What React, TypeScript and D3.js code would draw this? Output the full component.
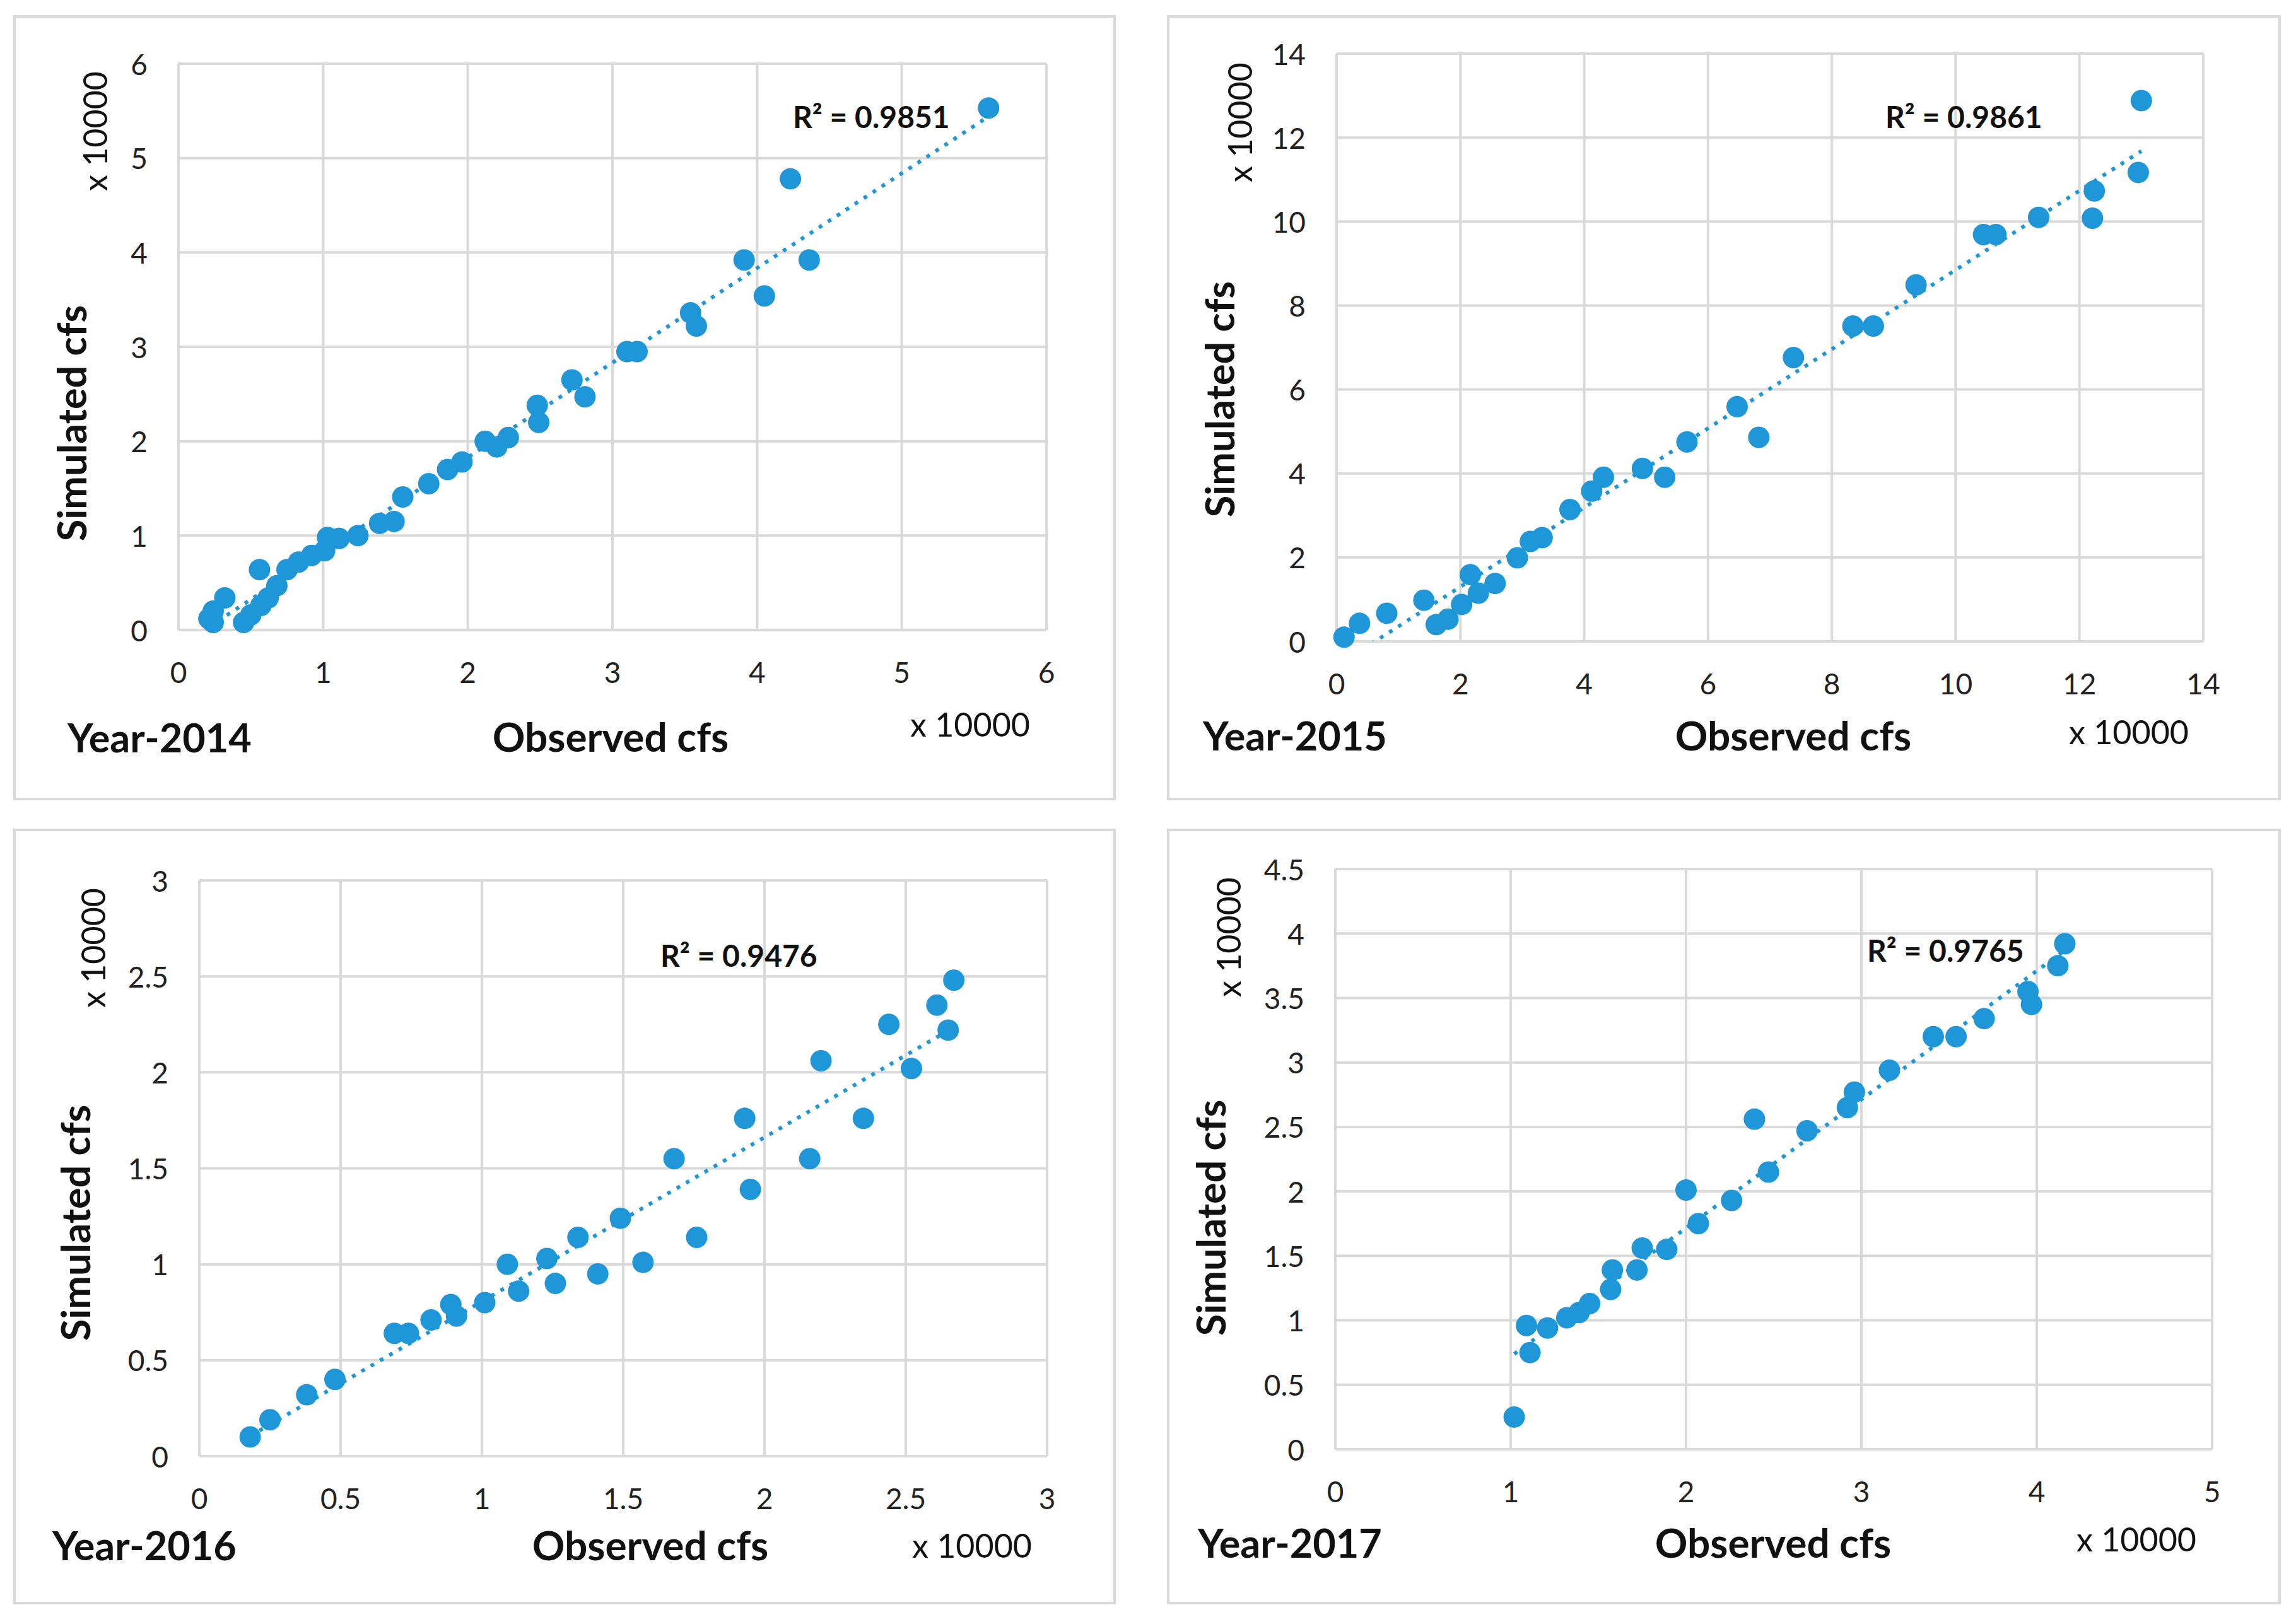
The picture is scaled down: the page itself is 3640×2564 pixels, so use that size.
import React from "react";
import * as d3 from "d3";

// ---------- DATA (values in units of 10000 cfs) ----------
const obs2014 = [5.60, 4.23, 3.91, 4.36, 4.05, 3.54, 3.58, 3.10, 3.17, 2.72, 2.81, 2.48, 2.49, 2.12, 2.20, 2.28, 1.96, 1.86, 1.73, 1.55, 1.49, 1.39, 1.24, 1.11, 1.03, 1.01, 0.92, 0.83, 0.75, 0.68, 0.56, 0.62, 0.57, 0.50, 0.45, 0.32, 0.24, 0.21, 0.24];
const sim2014 = [5.53, 4.78, 3.92, 3.92, 3.54, 3.36, 3.22, 2.95, 2.95, 2.65, 2.47, 2.38, 2.20, 2.00, 1.94, 2.04, 1.78, 1.70, 1.55, 1.41, 1.15, 1.13, 1.00, 0.97, 0.98, 0.84, 0.79, 0.72, 0.64, 0.47, 0.64, 0.34, 0.26, 0.16, 0.08, 0.34, 0.20, 0.12, 0.08];

const obs2015 = [13.0, 12.95, 12.24, 12.21, 11.34, 10.45, 10.65, 9.36, 8.34, 8.67, 7.38, 6.47, 6.82, 5.66, 4.94, 5.30, 4.31, 4.12, 3.77, 3.32, 3.13, 2.92, 2.56, 2.29, 2.16, 2.02, 1.80, 1.61, 1.41, 0.81, 0.37, 0.12];
const sim2015 = [12.88, 11.17, 10.73, 10.08, 10.10, 9.69, 9.69, 8.49, 7.51, 7.51, 6.76, 5.59, 4.86, 4.75, 4.12, 3.91, 3.91, 3.58, 3.14, 2.47, 2.38, 1.99, 1.38, 1.15, 1.59, 0.88, 0.53, 0.40, 0.98, 0.67, 0.43, 0.10];

const obs2016 = [2.67, 2.61, 2.65, 2.44, 2.52, 2.20, 2.35, 1.93, 2.16, 1.68, 1.95, 1.49, 1.76, 1.34, 1.57, 1.23, 1.09, 1.41, 1.26, 1.13, 1.01, 0.89, 0.91, 0.82, 0.69, 0.74, 0.48, 0.38, 0.25, 0.18];
const sim2016 = [2.48, 2.35, 2.22, 2.25, 2.02, 2.06, 1.76, 1.76, 1.55, 1.55, 1.39, 1.24, 1.14, 1.14, 1.01, 1.03, 1.00, 0.95, 0.90, 0.86, 0.80, 0.79, 0.73, 0.71, 0.64, 0.64, 0.40, 0.32, 0.19, 0.10];

const obs2017 = [4.16, 4.12, 3.95, 3.97, 3.70, 3.54, 3.41, 3.16, 2.96, 2.92, 2.69, 2.39, 2.47, 2.26, 2.00, 2.07, 1.89, 1.75, 1.72, 1.58, 1.57, 1.45, 1.39, 1.32, 1.21, 1.09, 1.11, 1.02];
const sim2017 = [3.92, 3.75, 3.55, 3.45, 3.34, 3.20, 3.20, 2.94, 2.77, 2.65, 2.47, 2.56, 2.15, 1.93, 2.01, 1.75, 1.55, 1.56, 1.39, 1.39, 1.24, 1.13, 1.06, 1.02, 0.94, 0.96, 0.75, 0.25];

const ticks2014 = [0, 1, 2, 3, 4, 5, 6];
const ticks2015 = [0, 2, 4, 6, 8, 10, 12, 14];
const ticks2016 = [0, 0.5, 1, 1.5, 2, 2.5, 3];
const yTicks2017 = [0, 0.5, 1, 1.5, 2, 2.5, 3, 3.5, 4, 4.5];
const xTicks2017 = [0, 1, 2, 3, 4, 5];

const yearLabels = ["Year-2014", "Year-2015", "Year-2016", "Year-2017"];
const r2Labels = ["R² = 0.9851", "R² = 0.9861", "R² = 0.9476", "R² = 0.9765"];
const xTitle = "Observed cfs";
const yTitle = "Simulated cfs";
const scaleLabel = "x 10000";

// ---------- LAYOUT ----------
const W = 3640;
const H = 2564;
const COLOR = "#1e96d7";
const GRID = "#d9d9d9";
const FONT = "Lato, 'Open Sans', sans-serif";

type Panel = {
  obs: number[];
  sim: number[];
  xTicks: number[];
  yTicks: number[];
  year: string;
  r2: string;
  box: [number, number, number, number];
  plot: [number, number, number, number]; // left, top, right, bottom
  yScaleLbl: [number, number];
  yTitlePos: [number, number];
  yearPos: [number, number];
  xTitlePos: [number, number];
  xScaleLbl: [number, number];
  r2Pos: [number, number];
};

const panels: Panel[] = [
  {
    obs: obs2014, sim: sim2014, xTicks: ticks2014, yTicks: ticks2014,
    year: yearLabels[0], r2: r2Labels[0],
    box: [23, 26, 1767, 1267], plot: [283, 101, 1659, 999],
    yScaleLbl: [150, 208], yTitlePos: [112, 671], yearPos: [107, 1193],
    xTitlePos: [968, 1192], xScaleLbl: [1443, 1168], r2Pos: [1257, 203],
  },
  {
    obs: obs2015, sim: sim2015, xTicks: ticks2015, yTicks: ticks2015,
    year: yearLabels[1], r2: r2Labels[1],
    box: [1852, 26, 3614, 1267], plot: [2119, 85, 3493, 1017],
    yScaleLbl: [1965, 194], yTitlePos: [1932, 633], yearPos: [1907, 1190],
    xTitlePos: [2843, 1190], xScaleLbl: [3280, 1180], r2Pos: [2989, 203],
  },
  {
    obs: obs2016, sim: sim2016, xTicks: ticks2016, yTicks: ticks2016,
    year: yearLabels[2], r2: r2Labels[2],
    box: [23, 1316, 1767, 2542], plot: [316, 1396, 1660, 2309],
    yScaleLbl: [147, 1503], yTitlePos: [118, 1939], yearPos: [83, 2474],
    xTitlePos: [1031, 2474], xScaleLbl: [1446, 2470], r2Pos: [1047, 1533],
  },
  {
    obs: obs2017, sim: sim2017, xTicks: xTicks2017, yTicks: yTicks2017,
    year: yearLabels[3], r2: r2Labels[3],
    box: [1852, 1316, 3614, 2542], plot: [2117, 1378, 3507, 2298],
    yScaleLbl: [1947, 1486], yTitlePos: [1918, 1931], yearPos: [1899, 2470],
    xTitlePos: [2811, 2470], xScaleLbl: [3292, 2460], r2Pos: [2960, 1525],
  },
];

function linReg(xs: number[], ys: number[]) {
  const mx = d3.mean(xs)!;
  const my = d3.mean(ys)!;
  let num = 0, den = 0;
  xs.forEach((x, i) => {
    num += (x - mx) * (ys[i] - my);
    den += (x - mx) * (x - mx);
  });
  const slope = num / den;
  return { slope, intercept: my - slope * mx };
}

function fmt(v: number) {
  return String(v);
}

function ScatterPanel({ p, idx }: { p: Panel; idx: number }) {
  const [l, t, r, b] = p.plot;
  const x = d3.scaleLinear().domain([p.xTicks[0], p.xTicks[p.xTicks.length - 1]]).range([l, r]);
  const y = d3.scaleLinear().domain([p.yTicks[0], p.yTicks[p.yTicks.length - 1]]).range([b, t]);
  const { slope, intercept } = linReg(p.obs, p.sim);
  const [x0, x1] = d3.extent(p.obs) as [number, number];
  const line = d3.line<number>().x((d) => x(d)).y((d) => y(slope * d + intercept));
  const clipId = `clip-${idx}`;
  const [bx0, by0, bx1, by1] = p.box;

  return (
    <g>
      <rect x={bx0} y={by0} width={bx1 - bx0} height={by1 - by0} fill="#fff" stroke={GRID} strokeWidth={4} />
      <defs>
        <clipPath id={clipId}>
          <rect x={l} y={t} width={r - l} height={b - t} />
        </clipPath>
      </defs>
      {p.yTicks.map((v) => (
        <line key={"gy" + v} x1={l} x2={r} y1={y(v)} y2={y(v)} stroke={GRID} strokeWidth={4} />
      ))}
      {p.xTicks.map((v) => (
        <line key={"gx" + v} x1={x(v)} x2={x(v)} y1={t} y2={b} stroke={GRID} strokeWidth={4} />
      ))}
      {p.yTicks.map((v) => (
        <text key={"ty" + v} x={l - 49} y={y(v)} textAnchor="end" dominantBaseline="central"
          fontFamily={FONT} fontSize={46} fill="#222">{fmt(v)}</text>
      ))}
      {p.xTicks.map((v) => (
        <text key={"tx" + v} x={x(v)} y={b + 66} textAnchor="middle" dominantBaseline="central"
          fontFamily={FONT} fontSize={46} fill="#222">{fmt(v)}</text>
      ))}
      <g clipPath={`url(#${clipId})`}>
        <path d={line([x0, x1]) || ""} fill="none" stroke={COLOR} strokeWidth={6} strokeDasharray="6 11" />
      </g>
      {p.obs.map((v, i) => (
        <circle key={"pt" + i} cx={x(v)} cy={y(p.sim[i])} r={17} fill={COLOR} />
      ))}
      <text x={p.r2Pos[0]} y={p.r2Pos[1]} fontFamily={FONT} fontWeight={700} fontSize={48} fill="#111">{p.r2}</text>
      <text transform={`translate(${p.yScaleLbl[0]},${p.yScaleLbl[1]}) rotate(-90)`} textAnchor="middle"
        dominantBaseline="central" fontFamily={FONT} fontSize={52} fill="#111">{scaleLabel}</text>
      <text transform={`translate(${p.yTitlePos[0]},${p.yTitlePos[1]}) rotate(-90)`} textAnchor="middle"
        dominantBaseline="central" fontFamily={FONT} fontWeight={700} fontSize={63} fill="#111">{yTitle}</text>
      <text x={p.yearPos[0]} y={p.yearPos[1]} fontFamily={FONT} fontWeight={700} fontSize={63} fill="#111">{p.year}</text>
      <text x={p.xTitlePos[0]} y={p.xTitlePos[1]} textAnchor="middle" fontFamily={FONT} fontWeight={700} fontSize={64} fill="#111">{xTitle}</text>
      <text x={p.xScaleLbl[0]} y={p.xScaleLbl[1]} fontFamily={FONT} fontSize={52} fill="#111">{scaleLabel}</text>
    </g>
  );
}

export default function App() {
  return (
    <svg width={W} height={H} viewBox={`0 0 ${W} ${H}`}
      style={{ position: "absolute", left: 0, top: 0, display: "block", background: "#fff" }}>
      <rect x={0} y={0} width={W} height={H} fill="#fff" />
      {panels.map((p, i) => (
        <ScatterPanel key={i} p={p} idx={i} />
      ))}
    </svg>
  );
}
